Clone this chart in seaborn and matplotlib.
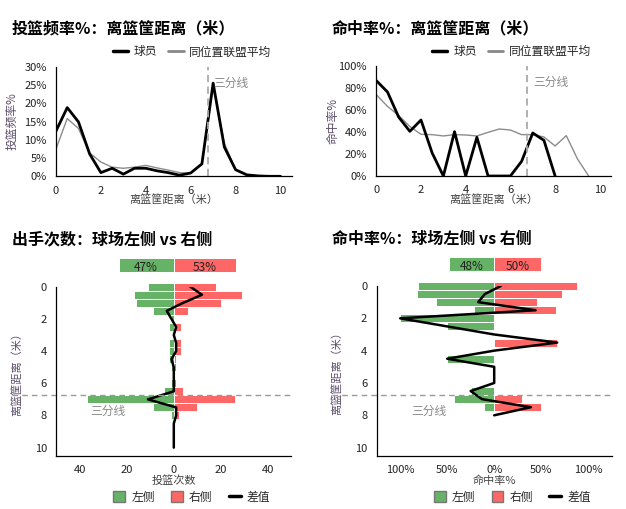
import numpy as np
import pandas as pd
import seaborn as sns
import matplotlib.pyplot as plt
from matplotlib.lines import Line2D
from matplotlib.patches import Patch
from matplotlib.ticker import FuncFormatter

# Distance bins (metres from the rim)
distance = [0, 0.5, 1, 1.5, 2, 2.5, 3, 3.5, 4, 4.5, 5,
            5.5, 6, 6.5, 7, 7.5, 8, 8.5, 9, 9.5, 10]
three_pt = 6.75

# Shot frequency % (player vs league average at same position)
player_freq = [12.4, 18.8, 14.9, 6.1, 1.0, 2.2, 0.6, 2.2, 2.2, 1.5, 1.0,
               0.3, 0.9, 3.4, 25.5, 8.0, 1.8, 0.4, 0.1, 0.0, 0.0]
league_freq = [7.5, 15.8, 13.1, 6.4, 3.9, 2.5, 2.2, 2.5, 3.0, 2.3, 1.7,
               1.0, 0.8, 3.4, 24.9, 9.0, 1.8, 0.4, 0.2, 0.1, 0.0]

# Field goal % by distance
player_fg = [86.7, 76.4, 53.6, 40.6, 50.9, 20.9, 0, 40.3, 0, 35.2, 0,
             0, 0, 13.3, 39.1, 32.4, 0, np.nan, np.nan, np.nan, np.nan]
league_fg = [73.9, 63.3, 55.0, 45.0, 37.9, 37.6, 36.4, 37.6, 37.3, 36.4, 39.7,
             42.7, 41.8, 37.6, 37.6, 35.5, 27.3, 36.7, 15.5, 0, np.nan]

# Shot counts: left side vs right side of the court
left_shots = [11, 17, 16, 9, 1, 2, 0, 2, 2, 2, 1,
              0, 1, 4, 37, 9, 1, 0, 0, 0, 0]
right_shots = [18, 29, 20, 6, 0, 3, 0, 3, 3, 1, 1,
               0, 1, 4, 26, 10, 2, 0, 0, 0, 0]
shots_split = [47, 53]

# Field goal % by side
left_fg = [81, 82, 62, 22, 100, 50, 0, 0, 0, 50, 0,
           0, 0, 25, 43, 11, 0, np.nan, np.nan, np.nan, np.nan]
right_fg = [88, 72, 45, 66, 0, 0, 0, 67, 0, 0, 0,
            0, 0, 0, 30, 50, 0, np.nan, np.nan, np.nan, np.nan]
fg_split = [48, 50]

GREEN = '#66b266'
RED = '#ff6666'
LABEL_Y = '#5c4d6b'
LABEL_X = '#444444'

sns.set_theme(style='white')
plt.rcParams['font.family'] = ['Noto Sans CJK SC', 'DejaVu Sans']
plt.rcParams['axes.unicode_minus'] = False

fig = plt.figure(figsize=(6.26, 5.09), dpi=100)
W, H = 626, 509


def add_ax(x0, y0, x1, y1):
    # pixel box -> figure fraction
    return fig.add_axes([x0 / W, 1 - y1 / H, (x1 - x0) / W, (y1 - y0) / H])


def style_axis(ax):
    for side in ['top', 'right']:
        ax.spines[side].set_visible(False)
    for side in ['left', 'bottom']:
        ax.spines[side].set_color('black')
        ax.spines[side].set_linewidth(0.9)
    ax.tick_params(which='both', direction='out', length=4.3, width=0.8,
                   color='black', labelsize=8, labelcolor='#222222', pad=2.5)
    ax.grid(False)


df = pd.DataFrame({
    'distance': distance,
    'player_freq': np.array(player_freq) / 100,
    'league_freq': np.array(league_freq) / 100,
    'player_fg': np.array(player_fg) / 100,
    'league_fg': np.array(league_fg) / 100,
    'left_shots': left_shots,
    'right_shots': right_shots,
    'left_fg': np.array(left_fg) / 100,
    'right_fg': np.array(right_fg) / 100,
})
df['shots_diff'] = df['right_shots'] - df['left_shots']
df['fg_diff'] = df['right_fg'] - df['left_fg']

pct_fmt = FuncFormatter(lambda v, p: f'{v * 100:.0f}%')

# ---------- top charts: line plots ----------
top_specs = [
    (56, 66.7, 291.7, 176.3, 'player_freq', 'league_freq', 0.30,
     [0, 0.05, 0.10, 0.15, 0.20, 0.25, 0.30], '投篮频率%', '投篮频率%：离篮筐距离（米）', 12),
    (376.3, 66, 611, 176, 'player_fg', 'league_fg', 1.0,
     [0, 0.2, 0.4, 0.6, 0.8, 1.0], '命中率%', '命中率%：离篮筐距离（米）', 332),
]
for x0, y0, x1, y1, pcol, lcol, ymax, yticks, ylab, title, tx in top_specs:
    ax = add_ax(x0, y0, x1, y1)
    sns.lineplot(data=df, x='distance', y=lcol, ax=ax, color='#8c8c8c', lw=1.0)
    sns.lineplot(data=df, x='distance', y=pcol, ax=ax, color='black', lw=2)
    ax.axvline(three_pt, color='#aaaaaa', ls=(0, (4, 2.5)), lw=1.3)
    ax.text(7.0, 0.85, '三分线', transform=ax.get_xaxis_transform(),
            color='#888888', fontsize=8.5, va='center', ha='left')
    ax.set_xlim(0, 10.5)
    ax.set_ylim(0, ymax)
    ax.set_xticks([0, 2, 4, 6, 8, 10])
    ax.set_xticks([10.5], minor=True)
    ax.set_yticks(yticks)
    ax.yaxis.set_major_formatter(pct_fmt)
    style_axis(ax)
    ax.set_xlabel('离篮筐距离（米）', fontsize=8, color=LABEL_X, labelpad=-1)
    ax.set_ylabel(ylab, fontsize=8.5, color=LABEL_Y)
    ax.yaxis.set_label_coords(-0.158, 0.5)
    handles = [Line2D([], [], color='black', lw=2.5),
               Line2D([], [], color='#888888', lw=2)]
    ax.legend(handles, ['球员', '同位置联盟平均'], loc='center right',
              bbox_to_anchor=(0.935, 1.135), ncol=2, frameon=False,
              fontsize=8.5, handlelength=1.3, handletextpad=0.5,
              columnspacing=0.9, borderaxespad=0)
    fig.text(tx / W, 1 - 28 / H, title, fontsize=11.5, fontweight='bold',
             color='black', va='center', ha='left')

# ---------- bottom charts: left vs right bars ----------
bot_specs = [
    (56.3, 286.7, 291.3, 455.7, 'left_shots', 'right_shots', 'shots_diff', 50,
     [-40, -20, 0, 20, 40], FuncFormatter(lambda v, p: f'{abs(v):.0f}'),
     '投篮次数', shots_split, '出手次数：球场左侧 vs 右侧', 12),
    (376.7, 286, 611.7, 455.7, 'left_fg', 'right_fg', 'fg_diff', 1.25,
     [-1, -0.5, 0, 0.5, 1], FuncFormatter(lambda v, p: f'{abs(v) * 100:.0f}%'),
     '命中率%', fg_split, '命中率%：球场左侧 vs 右侧', 332),
]
for (x0, y0, x1, y1, lcol, rcol, dcol, xmax, xticks, xfmt,
     xlab, split, title, tx) in bot_specs:
    ax = add_ax(x0, y0, x1, y1)
    bars = df.copy()
    bars['neg_left'] = -bars[lcol]
    sns.barplot(data=bars, x='neg_left', y='distance', orient='h',
                native_scale=True, color=GREEN, saturation=1, errorbar=None,
                width=1, edgecolor='white', linewidth=0.7, ax=ax)
    sns.barplot(data=bars, x=rcol, y='distance', orient='h',
                native_scale=True, color=RED, saturation=1, errorbar=None,
                width=1, edgecolor='white', linewidth=0.7, ax=ax)
    sns.lineplot(data=bars, x=dcol, y='distance', orient='y', sort=False,
                 color='black', lw=1.8, ax=ax)
    for p in ax.patches:
        p.set_clip_on(False)

    # overall split bar above the chart
    scale = 50 if xmax == 50 else 1
    ax.barh(-1.35, -split[0] / 100 * scale, height=0.9, color=GREEN,
            edgecolor='white', linewidth=0.7, clip_on=False)
    ax.barh(-1.35, split[1] / 100 * scale, height=0.9, color=RED,
            edgecolor='white', linewidth=0.7, clip_on=False)
    ax.text(-split[0] / 100 * scale / 2, -1.22, f'{split[0]}%', ha='center',
            va='center', fontsize=8.5, color='#222222')
    ax.text(split[1] / 100 * scale / 2, -1.22, f'{split[1]}%', ha='center',
            va='center', fontsize=8.5, color='#222222')

    line = Line2D([-0.19, 1.0], [three_pt, three_pt], color='#999999',
                  ls=(0, (4, 3)), lw=1, transform=ax.get_yaxis_transform(),
                  clip_on=False)
    ax.add_line(line)
    ax.text(0.145, 7.75, '三分线', transform=ax.get_yaxis_transform(),
            color='#888888', fontsize=8.5, va='center', ha='left')

    ax.set_xlim(-xmax, xmax)
    ax.set_ylim(10.5, 0)
    ax.set_xticks(xticks)
    ax.set_xticks([-xmax, xmax], minor=True)
    ax.xaxis.set_major_formatter(xfmt)
    ax.set_yticks([0, 2, 4, 6, 8, 10])
    ax.set_yticklabels(['0', '2', '4', '6', '8', '10'])
    ax.set_yticks([10.5], minor=True)
    style_axis(ax)
    ax.set_xlabel(xlab, fontsize=8, color=LABEL_X, labelpad=0)
    ax.set_ylabel('离篮筐距离（米）', fontsize=8, color=LABEL_Y)
    ax.yaxis.set_label_coords(-0.145, 0.5)

    handles = [Patch(facecolor=GREEN, edgecolor='#777777', lw=1),
               Patch(facecolor=RED, edgecolor='#777777', lw=1),
               Line2D([], [], color='black', lw=2.5)]
    ax.legend(handles, ['左侧', '右侧', '差值'], loc='center right',
              bbox_to_anchor=(0.93, -0.245), ncol=3, frameon=False,
              fontsize=8.5, handlelength=1.0, handleheight=1.0,
              handletextpad=0.5, columnspacing=1.4, borderaxespad=0)
    fig.text(tx / W, 1 - 239 / H, title, fontsize=11.5, fontweight='bold',
             color='black', va='center', ha='left')

fig.savefig('out.png', dpi=100)
